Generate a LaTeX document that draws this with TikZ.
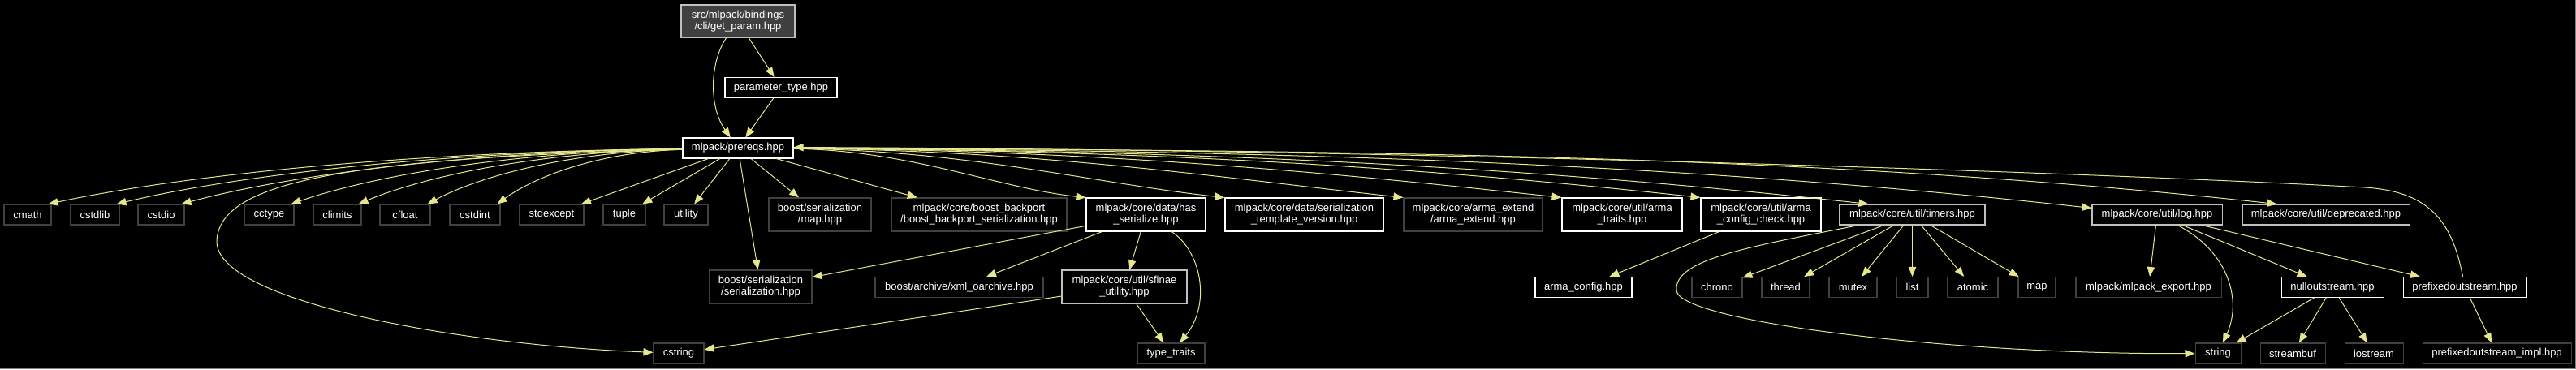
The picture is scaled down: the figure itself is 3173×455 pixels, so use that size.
\documentclass[tikz,border=0pt]{standalone}
\usepackage{fontspec}
\setmainfont{Liberation Sans}
\usetikzlibrary{arrows.meta,calc}
\definecolor{edgeyel}{RGB}{230,230,140}
\definecolor{boxdark}{RGB}{64,64,64}
\definecolor{boxlight}{RGB}{191,191,191}
\newdimen\pxu
\pxu=0.75pt

\begin{document}
\begin{tikzpicture}[x=0.75pt, y=-0.75pt,
  every node/.style={font=\fontsize{9.75}{10.5}\selectfont, text=white, inner sep=0pt, minimum height=25\pxu, line width=0.8pt},
  w/.style={minimum width=#1\pxu},
  two/.style={minimum height=41\pxu, align=center},
  file/.style={draw=boxdark},
  doc/.style={draw=white},
  part/.style={draw=boxlight},
  root/.style={draw=boxlight, fill=boxdark},
  edge/.style={color=edgeyel, line width=0.75pt, -{Triangle[length=9pt,width=7pt]}}]

  \fill[black] (0,0) rectangle (3173,455);
  \useasboundingbox (0,0) rectangle (3173,455);
  \draw[gray, line width=0.75pt] (0,454.5) -- (3172.5,454.5) -- (3172.5,0);

  % top
  \node[root, two, w=140, minimum height=40\pxu] (getp) at (909,26) {src/mlpack/bindings\\/cli/get\_param.hpp};
  \node[doc, w=138] (ptype) at (962,108) {parameter\_type.hpp};
  \node[doc, w=136] (prereqs) at (909,182.5) {mlpack/prereqs.hpp};

  % first row
  \foreach \n/\x/\ww in {cmath/34/58, cstdlib/117/60, cstdio/198.5/57, cctype/331.5/61, climits/415.5/59, cfloat/499/62, cstdint/585/62, stdexcept/679.5/79, tuple/769/52, utility/845/54}
    \node[file, w=\ww] (\n) at (\x,264.5) {\n};
  \node[file, two, w=126] (bsmap) at (1010,264.5) {boost/serialization\\/map.hpp};
  \node[file, two, w=216] (backport) at (1206,264.5) {mlpack/core/boost\_backport\\/boost\_backport\_serialization.hpp};
  \node[doc, two, w=147] (hasser) at (1411.5,264.5) {mlpack/core/data/has\\\_serialize.hpp};
  \node[doc, two, w=195] (stv) at (1606.5,264.5) {mlpack/core/data/serialization\\\_template\_version.hpp};
  \node[file, two, w=171] (armaext) at (1814.5,264.5) {mlpack/core/arma\_extend\\/arma\_extend.hpp};
  \node[doc, two, w=148] (armatraits) at (1998,264.5) {mlpack/core/util/arma\\\_traits.hpp};
  \node[doc, two, w=148] (armacheck) at (2169,264.5) {mlpack/core/util/arma\\\_config\_check.hpp};
  \node[part, w=179] (timers) at (2355.5,264.5) {mlpack/core/util/timers.hpp};
  \node[part, w=160] (log) at (2657,264.5) {mlpack/core/util/log.hpp};
  \node[part, w=206] (deprecated) at (2865,264.5) {mlpack/core/util/deprecated.hpp};

  % second row
  \node[file, two, w=126] (bsser) at (937,353.5) {boost/serialization\\/serialization.hpp};
  \node[file, w=207] (xml) at (1181.5,354) {boost/archive/xml\_oarchive.hpp};
  \node[part, two, w=154] (sfinae) at (1385,353.5) {mlpack/core/util/sfinae\\\_utility.hpp};
  \node[doc, w=119] (armaconf) at (1950.5,354) {arma\_config.hpp};
  \foreach \n/\x/\ww in {chrono/2115/62, thread/2199.5/59, mutex/2282.5/59, list/2355.5/39, atomic/2430/62, map/2509/46}
    \node[file, w=\ww] (\n) at (\x,354) {\n};
  \node[file, w=179] (export) at (2646.5,354) {mlpack/mlpack\_export.hpp};
  \node[doc, w=126] (nullout) at (2873,354) {nulloutstream.hpp};
  \node[doc, w=152] (prefout) at (3036,354) {prefixedoutstream.hpp};

  % third row
  \foreach \n/\x/\ww in {cstring/836/62, string/2732/56, streambuf/2824/80, iostream/2924/72}
    \node[file, w=\ww] (\n) at (\x,435.5) {\n};
  \node[file, w=83] (typetr) at (1442.5,435.5) {type\_traits};
  \node[file, w=183] (prefimpl) at (3075.5,435.5) {prefixedoutstream\_impl.hpp};

  % straight includes
  \foreach \a/\b in {getp/ptype, ptype/prereqs, prereqs/stdexcept, prereqs/tuple, prereqs/utility, prereqs/bsmap, prereqs/bsser, prereqs/backport, hasser/bsser, hasser/xml, hasser/sfinae, sfinae/cstring, sfinae/typetr, armacheck/armaconf, timers/chrono, timers/thread, timers/mutex, timers/list, timers/atomic, timers/map, log/export, log/nullout, log/prefout, nullout/string, nullout/streambuf, nullout/iostream, prefout/prefimpl}
    \draw[edge] (\a) -- (\b);

  % fan to the left
  \foreach \n/\a/\b in {cmath/489/215, cstdlib/527/283, cstdio/563/347, cctype/624/455, climits/661/521, cfloat/699/589, cstdint/738/658}
    \draw[edge] (prereqs) .. controls (\a,187) and (\b,218) .. ($(\n.north east)+(-4,0)$);

  % fan to the right
  \foreach \n/\a/\b/\c in {hasser/1121/1230/232, stv/1190/1349/226, armaext/1278/1503/219, armatraits/1356/1640/213, armacheck/1424/1760/207}
    \draw[edge] (prereqs) .. controls (\a,185) and (\b,\c) .. (\n.north west);
  \draw[edge] (prereqs) .. controls (1507,185) and (1905,208) .. ($(timers.north west)+(36,0)$);
  \draw[edge] (prereqs) .. controls (1617,185) and (2097,204) .. ($(log.north west)+(0,5)$);
  \draw[edge] (prereqs) .. controls (1708,185) and (2257,192) .. ($(deprecated.north west)+(43,0)$);

  % curved includes
  \draw[edge] (getp) .. controls (875,75) and (872,130) .. (prereqs);
  \draw[edge] (prereqs) .. controls (420,195) and (270,225) .. (267,297) .. controls (265,370) and (560,425) .. (cstring);
  \draw[edge] (hasser) .. controls (1480,310) and (1492,375) .. (typetr);
  \draw[edge] (timers) .. controls (2150,305) and (2062,320) .. (2065,358) .. controls (2068,396) and (2400,437) .. (string);
  \draw[edge] (log) .. controls (2745,310) and (2762,370) .. (string);
  \draw[edge] (prefout) .. controls (3020,270) and (2990,236) .. (2913,231) .. controls (2600,214) and (1800,185) .. ($(prereqs.east)+(0,-1)$);
\end{tikzpicture}
\end{document}
